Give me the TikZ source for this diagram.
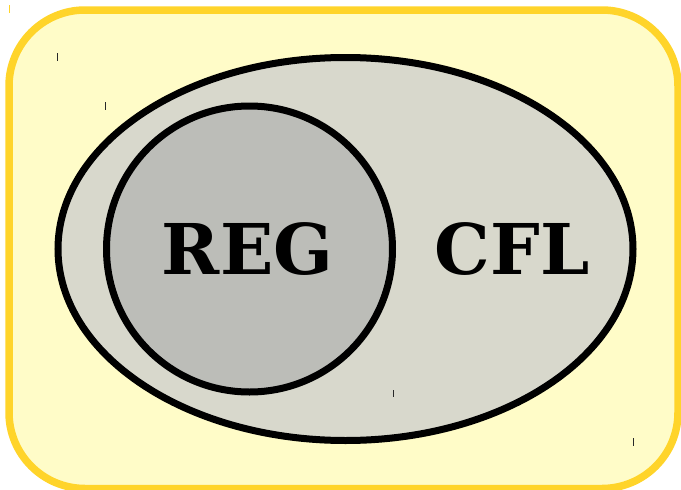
\documentclass[tikz,border=0pt]{standalone}
\usepackage{fontspec}
\newfontfamily\labelfont{DejaVu Serif}
\definecolor{outerfill}{RGB}{255,252,200}
\definecolor{outerdraw}{RGB}{255,212,42}
\definecolor{cflfill}{RGB}{216,216,204}
\definecolor{regfill}{RGB}{188,189,184}
\definecolor{tickcol}{RGB}{40,40,40}
\tikzset{
  setline/.style={draw=black, line width=7pt},
  setlabel/.style={inner sep=0pt, anchor=base, font=\labelfont\bfseries\fontsize{70}{80}\selectfont},
  tickmark/.style={draw=tickcol, line width=1pt},
}
\begin{document}
\begin{tikzpicture}[x=1pt,y=-1pt]
\useasboundingbox (0,0) rectangle (681,490);
% outer universe
\draw[fill=outerfill, draw=outerdraw, line width=7.5pt, rounded corners=76pt] (9,10) rectangle (678,488.5);
% CFL ellipse
\draw[setline, fill=cflfill] (345.5,249) ellipse [x radius=287.5, y radius=191.5];
% REG circle
\draw[setline, fill=regfill] (249.5,249) circle [radius=143];
\node[setlabel] (reg) at (247.5,274) {REG};
\node[setlabel] (cfl) at (512,274) {CFL};
% small tick artefacts
\draw[draw=outerdraw, line width=1pt] (9,5) -- (9,13);
\draw[tickmark] (57.3,53) -- (57.3,61);
\draw[tickmark] (105.7,102) -- (105.7,110);
\draw[tickmark] (393.3,390) -- (393.3,397);
\draw[tickmark] (633.3,438) -- (633.3,446);
\end{tikzpicture}
\end{document}
